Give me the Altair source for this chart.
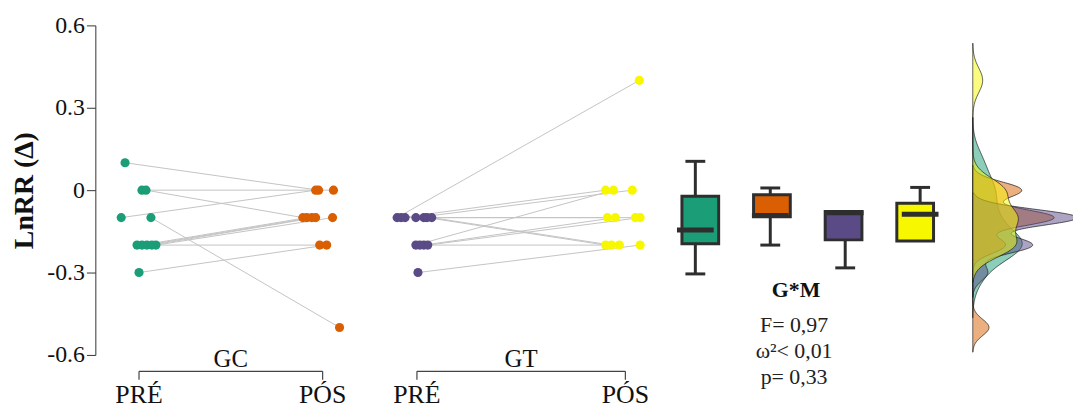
import altair as alt
import pandas as pd

# ---------------- data ----------------
GROUPS = ["GC", "GT"]
PHASE_LABELS = ["PRÉ", "PÓS"]
SERIES = ["GC-PRÉ", "GC-PÓS", "GT-PRÉ", "GT-PÓS"]
COLORS = ["#1b9e77", "#d95f02", "#5a4a85", "#f7f700"]

# GC: paired subjects (PRÉ -> PÓS)
GC_PRE = [0.1, 0.0, 0.0, -0.1, -0.1, -0.2, -0.2, -0.2, -0.2, -0.3, -0.2]
GC_POS = [0.0, 0.0, -0.1, 0.0, -0.5, -0.2, -0.1, -0.1, -0.1, -0.2, -0.1]
GC_PRE_JITTER = [-0.076, 0.016, 0.038, -0.097, 0.065, -0.011, 0.016, 0.043, 0.07, 0.0, 0.092]
GC_POS_JITTER = [-0.022, 0.059, -0.108, -0.038, 0.092, -0.016, -0.086, -0.059, -0.038, 0.022, 0.054]

# GT: paired subjects (PRÉ -> PÓS)
GT_PRE = [-0.1, -0.1, -0.1, -0.1, -0.1, -0.1, -0.1, -0.2, -0.2, -0.2, -0.2, -0.3]
GT_POS = [0.4, 0.0, 0.0, -0.1, -0.2, -0.2, -0.1, 0.0, -0.1, -0.1, -0.2, -0.2]
GT_PRE_JITTER = [-0.095, -0.076, -0.005, 0.033, 0.048, 0.071, -0.057, -0.005, 0.033, 0.052, 0.014, 0.005]
GT_POS_JITTER = [0.067, -0.095, 0.033, -0.086, -0.095, -0.067, 0.048, -0.057, -0.048, 0.071, -0.029, 0.071]

# box plot statistics (per series, same order as SERIES)
BOX_MAX = [0.105, 0.008, -0.078, 0.01]
BOX_Q3 = [-0.022, -0.017, -0.078, -0.048]
BOX_MED = [-0.145, -0.092, -0.082, -0.088]
BOX_Q1 = [-0.195, -0.097, -0.181, -0.185]
BOX_MIN = [-0.305, -0.2, -0.283, -0.185]

# density bandwidths per series
BANDWIDTHS = [0.055, 0.03, 0.03, 0.045]

TICK_VALUES = [0.6, 0.3, 0.0, -0.3, -0.6]
TICK_LABELS = ["0.6", "0.3", "0", "-0.3", "-0.6"]
Y_TITLE = "LnRR (Δ)"
STATS_TITLE = "G*M"
STATS_LINES = ["F= 0,97", "ω²< 0,01", "p= 0,33"]

# ---------------- tables ----------------
rows = []
for grp, pre, pos, jpre, jpos in [
    ("GC", GC_PRE, GC_POS, GC_PRE_JITTER, GC_POS_JITTER),
    ("GT", GT_PRE, GT_POS, GT_PRE_JITTER, GT_POS_JITTER),
]:
    for i, (a, b, ja, jb) in enumerate(zip(pre, pos, jpre, jpos)):
        rows.append(dict(group=grp, subject=f"{grp}{i}", phase=0, value=a, jitter=ja, series=f"{grp}-{PHASE_LABELS[0]}"))
        rows.append(dict(group=grp, subject=f"{grp}{i}", phase=1, value=b, jitter=jb, series=f"{grp}-{PHASE_LABELS[1]}"))
df = pd.DataFrame(rows)

box_df = pd.DataFrame(dict(series=SERIES, pos=list(range(len(SERIES))), hi=BOX_MAX,
                           q3=BOX_Q3, med=BOX_MED, q1=BOX_Q1, lo=BOX_MIN))
phase_df = pd.DataFrame(dict(phase=[0, 1], label=PHASE_LABELS))
bracket_df = pd.DataFrame(dict(start=[0], end=[1]))

# ---------------- shared encodings ----------------
FONT = "Liberation Serif"
DARK = "#2e2e2e"
AXIS_COLOR = "#333333"

label_expr = "''"
for v, lab in reversed(list(zip(TICK_VALUES, TICK_LABELS))):
    label_expr = f"abs(datum.value - ({v})) < 1e-9 ? '{lab}' : ({label_expr})"

y_scale = alt.Scale(domain=[-0.6, 0.6], nice=False, zero=False)
y_axis = alt.Axis(values=TICK_VALUES, labelExpr=label_expr, labelFont=FONT, labelFontSize=24,
                  labelColor="#111111", labelPadding=2, tickSize=9, tickColor=AXIS_COLOR,
                  domainColor=AXIS_COLOR, grid=False, labelFlush=False, labelOverlap=False,
                  title=Y_TITLE, titleFont=FONT, titleFontSize=28, titleFontWeight="bold",
                  titleColor="#111111", titlePadding=8)


def Y(field):
    return alt.Y(f"{field}:Q", scale=y_scale, axis=y_axis, title=Y_TITLE)


color = alt.Color("series:N", scale=alt.Scale(domain=SERIES, range=COLORS), legend=None)

PANEL_RANGE = {"GC": [44, 229], "GT": [324, 534]}


def panel_scale(grp):
    return alt.Scale(domain=[0, 1], range=PANEL_RANGE[grp], nice=False, zero=False)


layers = []
base = alt.Chart(df).transform_calculate(xpos="datum.phase + datum.jitter")
for grp in GROUPS:
    sub = base.transform_filter(f"datum.group == '{grp}'")
    xenc = alt.X("xpos:Q", scale=panel_scale(grp), axis=None)
    layers.append(sub.mark_line(color="#c4c4c4", strokeWidth=1).encode(
        x=xenc, y=Y("value"), detail="subject:N"))
    layers.append(sub.mark_circle(size=85, opacity=1).encode(x=xenc, y=Y("value"), color=color))

    # bracket + labels below each panel
    layers.append(alt.Chart(bracket_df).mark_rule(color="#444444", strokeWidth=1.2).encode(
        x=alt.X("start:Q", scale=panel_scale(grp), axis=None), x2="end:Q", y=alt.value(348.5)))
    layers.append(alt.Chart(phase_df).mark_rule(color="#444444", strokeWidth=1.2).encode(
        x=alt.X("phase:Q", scale=panel_scale(grp), axis=None), y=alt.value(348.5), y2=alt.value(357)))
    layers.append(alt.Chart(phase_df).mark_text(font=FONT, fontSize=26, baseline="alphabetic",
                                                color="#111111").encode(
        x=alt.X("phase:Q", scale=panel_scale(grp), axis=None), y=alt.value(380), text="label:N"))
    mid_df = pd.DataFrame(dict(mid=[phase_df["phase"].mean()], label=[grp]))
    layers.append(alt.Chart(mid_df).mark_text(font=FONT, fontSize=25, baseline="alphabetic",
                                              color="#111111").encode(
        x=alt.X("mid:Q", scale=panel_scale(grp), axis=None), y=alt.value(344), text="label:N"))

# ---------------- box plots ----------------
box_x = alt.X("pos:Q", scale=alt.Scale(domain=[0, 3], range=[604.5, 831], nice=False, zero=False), axis=None)
bbase = alt.Chart(box_df)
layers.append(bbase.transform_filter("datum.lo < datum.q1").mark_rule(color=DARK, strokeWidth=3).encode(
    x=box_x, y=Y("lo"), y2="q1:Q"))
layers.append(bbase.transform_filter("datum.hi > datum.q3").mark_rule(color=DARK, strokeWidth=3).encode(
    x=box_x, y=Y("hi"), y2="q3:Q"))
layers.append(bbase.transform_filter("datum.lo < datum.q1").mark_tick(
    orient="horizontal", size=20, thickness=3, color=DARK, opacity=1).encode(x=box_x, y=Y("lo")))
layers.append(bbase.transform_filter("datum.hi > datum.q3").mark_tick(
    orient="horizontal", size=20, thickness=3, color=DARK, opacity=1).encode(x=box_x, y=Y("hi")))
layers.append(bbase.mark_bar(size=37, stroke=DARK, strokeWidth=3, opacity=1).encode(
    x=box_x, y=Y("q1"), y2="q3:Q", color=color))
layers.append(bbase.mark_tick(orient="horizontal", size=37, thickness=5, color=DARK, opacity=1).encode(
    x=box_x, y=Y("med")))

# ---------------- stats text ----------------
layers.append(alt.Chart(pd.DataFrame(dict(t=[STATS_TITLE]))).mark_text(
    font=FONT, fontSize=22, fontWeight="bold", baseline="alphabetic", color="#111111").encode(
    x=alt.value(706), y=alt.value(274), text="t:N"))
layers.append(alt.Chart(pd.DataFrame(dict(t=[STATS_TITLE]))).mark_text(
    font=FONT, fontSize=22, baseline="alphabetic", lineHeight=26, color="#222222").encode(
    x=alt.value(704), y=alt.value(309), text=alt.value(STATS_LINES)))

# ---------------- densities ----------------
dens_x = alt.X("density:Q", scale=alt.Scale(domain=[0, 7.4], range=[884, 984], nice=False, zero=False),
               axis=None)
for s, bw in zip(SERIES, BANDWIDTHS):
    vals = df.loc[df["series"] == s, "value"]
    ext = [float(vals.min()) - 3 * bw, float(vals.max()) + 3 * bw]
    layers.append(alt.Chart(df).transform_filter(f"datum.series == '{s}'").transform_density(
        "value", as_=["value", "density"], groupby=["series"], bandwidth=bw, extent=ext, steps=300
    ).mark_area(orient="horizontal", fillOpacity=0.5, stroke="#1a1a1a", strokeWidth=0.9,
                strokeOpacity=0.8).encode(y=Y("value"), x=dens_x, color=color))

chart = alt.layer(*layers).resolve_scale(x="independent").properties(
    width=985, height=332,
    padding={"left": 88, "top": 16, "right": 0, "bottom": 60},
    autosize=alt.AutoSizeParams(type="none"),
    background="white",
).configure_view(stroke=None)

chart.save("out.html", embed_options={"renderer": "svg", "actions": False})
